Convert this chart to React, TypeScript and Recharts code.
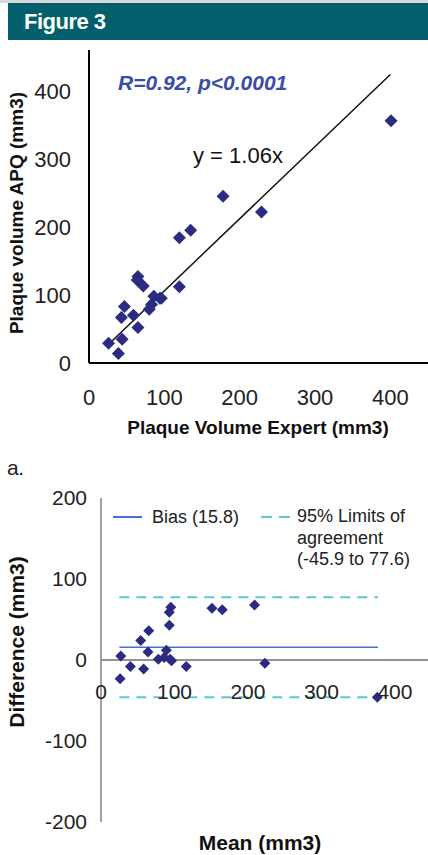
import React from 'react'
import { ScatterChart, Scatter, XAxis, YAxis, ReferenceLine } from 'recharts'

// Panel a: APQ vs expert plaque volume (mm3)
const expertVolume = [26, 39, 44, 47, 43, 59, 65, 65, 64, 72, 80, 83, 86, 94, 96, 120, 120, 135, 178, 229, 401]
const apqVolume = [29, 14, 35, 83, 67, 70, 52, 127, 122, 113, 79, 86, 98, 95, 95, 112, 184, 195, 245, 222, 356]
const fitSlope = 1.06
const fitRange = [25, 400]

// Panel b: Bland-Altman (mean vs difference)
const meanVolume = [27, 26, 40, 65, 54, 64, 58, 95, 93, 93, 78, 86, 89, 94, 96, 116, 151, 165, 209, 223, 376]
const diffVolume = [5, -23, -8, 36, 24, 10, -11, 65, 59, 43, 1, 3, 12, 1, -1, -8, 64, 62, 68, -4, -46]
const bias = 15.8
const limits = [-45.9, 77.6]
const meanRange = [25, 377]

const ticksX = [0, 100, 200, 300, 400]
const ticksY1 = [0, 100, 200, 300, 400]
const ticksY2 = [-200, -100, 0, 100, 200]

const scatterData = expertVolume.map((x, i) => ({ x, y: apqVolume[i] }))
const baData = meanVolume.map((x, i) => ({ x, y: diffVolume[i] }))

const FONT = '"Liberation Sans", Arial, Helvetica, sans-serif'
const NAVY = '#2b2b82'
const BIAS_BLUE = '#4a6fd4'
const LIMIT_CYAN = '#5cc8d4'

const Diamond = (r: number) => (props: any) => {
  const { cx, cy } = props
  if (cx == null || cy == null) return null
  return <polygon points={`${cx},${cy - r} ${cx + r},${cy} ${cx},${cy + r} ${cx - r},${cy}`} fill={NAVY} />
}

// BA chart plot height, x labels sit just under the zero line
const BA_PLOT_H = 324

const ZeroAxisTick = (props: any) => {
  const { x, y, payload } = props
  return (
    <text x={x} y={y - BA_PLOT_H / 2 + 32} dy="0.355em" textAnchor="middle" fontSize={21} fill="#222" fontFamily={FONT}>
      {payload.value}
    </text>
  )
}

const abs = (left: number, top: number): React.CSSProperties => ({ position: 'absolute', left, top })

export default function App() {
  return (
    <div style={{ position: 'absolute', left: 0, top: 0, width: 428, height: 855, background: '#fff', fontFamily: FONT, overflow: 'hidden' }}>
      {/* header band */}
      <div style={{ position: 'absolute', left: 0, top: 0, width: 428, height: 3, background: '#d8d8d8' }} />
      <div style={{ position: 'absolute', left: 8, top: 3, width: 420, height: 37, background: '#035f6b' }} />
      <div style={{ ...abs(24, 9), color: '#fff', fontWeight: 700, fontSize: 22, letterSpacing: -0.5, lineHeight: '26px' }}>Figure 3</div>

      {/* panel a */}
      <div style={abs(0, 0)}>
        <ScatterChart width={428} height={450} margin={{ top: 50, right: 0, bottom: 0, left: 0 }}>
          <XAxis
            type="number"
            dataKey="x"
            domain={[0, 450]}
            ticks={ticksX}
            height={87}
            tickSize={0}
            tickMargin={26}
            axisLine={{ stroke: '#000', strokeWidth: 2 }}
            tick={{ fontSize: 22, fill: '#222', fontFamily: FONT }}
            allowDataOverflow
          />
          <YAxis
            type="number"
            dataKey="y"
            domain={[0, 460]}
            ticks={ticksY1}
            width={89}
            tickSize={0}
            tickMargin={18}
            axisLine={{ stroke: '#000', strokeWidth: 2 }}
            tick={{ fontSize: 22, fill: '#222', fontFamily: FONT }}
            allowDataOverflow
          />
          <ReferenceLine
            segment={[
              { x: fitRange[0], y: fitRange[0] * fitSlope },
              { x: fitRange[1], y: fitRange[1] * fitSlope },
            ]}
            stroke="#111"
            strokeWidth={1.5}
          />
          <Scatter data={scatterData} shape={Diamond(6.5)} isAnimationActive={false} />
        </ScatterChart>
      </div>
      <div style={{ ...abs(118, 71), color: '#3a4ca8', fontWeight: 700, fontStyle: 'italic', fontSize: 21, lineHeight: '24px' }}>
        R=0.92, p&lt;0.0001
      </div>
      <div style={{ ...abs(193, 143), color: '#111', fontSize: 22, lineHeight: '26px' }}>y = 1.06x</div>
      <div style={{ ...abs(0, 416), width: 516, textAlign: 'center', fontWeight: 700, fontSize: 19, lineHeight: '24px', color: '#111' }}>
        Plaque Volume Expert (mm3)
      </div>
      <div
        style={{
          position: 'absolute', left: 17, top: 213, width: 300, marginLeft: -150, marginTop: -12,
          textAlign: 'center', transform: 'rotate(-90deg)', fontWeight: 700, fontSize: 19, lineHeight: '24px', color: '#111',
        }}
      >
        Plaque volume APQ (mm3)
      </div>

      <div style={{ ...abs(7, 455), fontSize: 21, letterSpacing: -0.5, color: '#222', lineHeight: '26px' }}>a.</div>

      {/* panel b */}
      <div style={abs(0, 440)}>
        <ScatterChart width={428} height={415} margin={{ top: 58, right: 0, bottom: 0, left: 0 }}>
          <XAxis
            type="number"
            dataKey="x"
            domain={[0, 445]}
            ticks={ticksX}
            height={33}
            tickSize={0}
            tickMargin={0}
            axisLine={false}
            tick={<ZeroAxisTick />}
            allowDataOverflow
          />
          <YAxis
            type="number"
            dataKey="y"
            domain={[-200, 200]}
            ticks={ticksY2}
            width={101}
            tickSize={0}
            tickMargin={14}
            axisLine={{ stroke: '#808080', strokeWidth: 1.5 }}
            tick={{ fontSize: 21, fill: '#222', fontFamily: FONT }}
            allowDataOverflow
          />
          <ReferenceLine y={0} stroke="#6e6e6e" strokeWidth={1.5} />
          <ReferenceLine
            segment={[{ x: meanRange[0], y: bias }, { x: meanRange[1], y: bias }]}
            stroke={BIAS_BLUE}
            strokeWidth={1.5}
          />
          {limits.map((v) => (
            <ReferenceLine
              key={v}
              segment={[{ x: meanRange[0], y: v }, { x: meanRange[1], y: v }]}
              stroke={LIMIT_CYAN}
              strokeWidth={2}
              strokeDasharray="10 7"
            />
          ))}
          <Scatter data={baData} shape={Diamond(5.5)} isAnimationActive={false} />
        </ScatterChart>
      </div>

      {/* legend */}
      <div style={{ position: 'absolute', left: 113, top: 516, width: 29, height: 2, background: BIAS_BLUE }} />
      <div style={{ ...abs(152, 506), fontSize: 18, lineHeight: '22px', color: '#222' }}>Bias (15.8)</div>
      <svg style={{ position: 'absolute', left: 261, top: 512 }} width={32} height={10}>
        <line x1={0} y1={5} x2={30} y2={5} stroke={LIMIT_CYAN} strokeWidth={2} strokeDasharray="11 7" />
      </svg>
      <div style={{ ...abs(297, 506), fontSize: 18, lineHeight: '21.7px', color: '#222' }}>
        95% Limits of
        <br />
        agreement
        <br />
        (-45.9 to 77.6)
      </div>

      <div
        style={{
          position: 'absolute', left: 17, top: 642, width: 300, marginLeft: -150, marginTop: -13,
          textAlign: 'center', transform: 'rotate(-90deg)', fontWeight: 700, fontSize: 21, lineHeight: '26px', color: '#111',
        }}
      >
        Difference (mm3)
      </div>
      <div style={{ ...abs(0, 830), width: 520, textAlign: 'center', fontWeight: 700, fontSize: 21, lineHeight: '26px', color: '#111' }}>
        Mean (mm3)
      </div>
    </div>
  )
}
